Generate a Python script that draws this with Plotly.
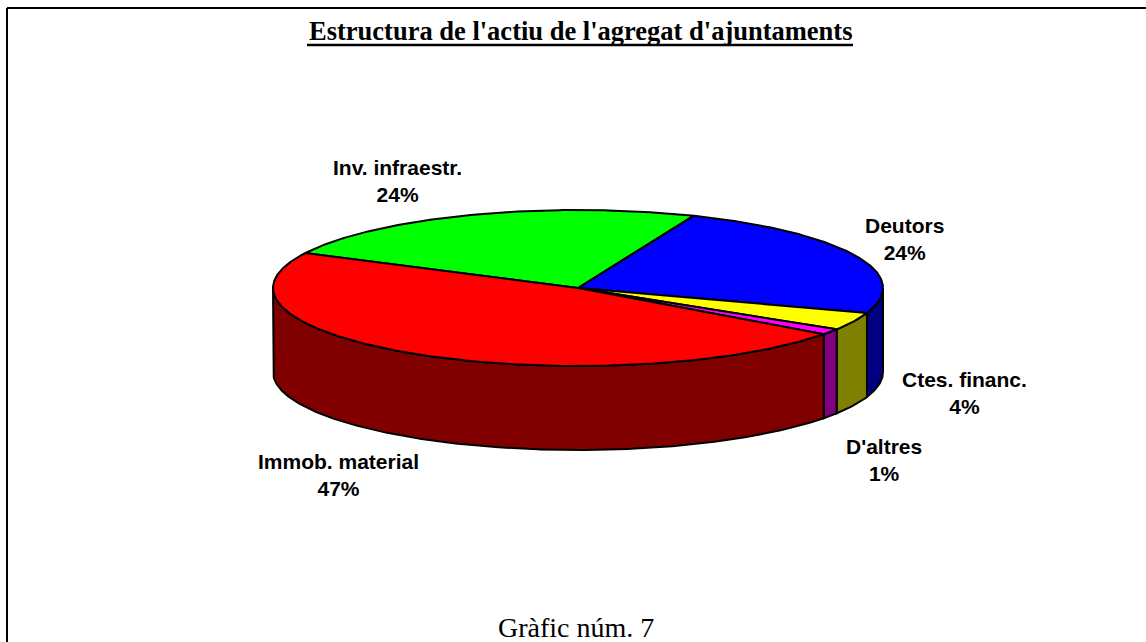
import numpy as np
import plotly.graph_objects as go

# ---- data ----
categories = ["Inv. infraestr.", "Deutors", "Ctes. financ.", "D'altres", "Immob. material"]
values = [23.8, 24.0, 3.7, 1.2, 47.3]
top_colors = ["#00FF00", "#0000FF", "#FFFF00", "#FF00FF", "#FF0000"]
side_colors = ["#008000", "#000080", "#808000", "#800080", "#800000"]
title_text = "Estructura de l'actiu de l'agregat d'ajuntaments"
footer_text = "Gràfic núm. 7"

# ---- layout / geometry (pixel space) ----
W, H = 1146, 642
CX, CY = 578, 288
RX, RY = 305, 78
DEPTH = 84
START_DEG = 153.4  # first slice starts here and runs clockwise

label_pos = [(397, 181), (904, 239), (964, 393), (884, 460), (338, 475)]

total = float(sum(values))
fracs = [v / total for v in values]

def ell(a_deg, dy=0.0):
    a = np.radians(a_deg)
    return CX + RX * np.cos(a), CY - RY * np.sin(a) + dy

fig = go.Figure()

# slice angle intervals (clockwise: a_start > a_end)
intervals = []
a = START_DEG
for f in fracs:
    a_end = a - f * 360.0
    intervals.append((a, a_end))
    a = a_end

# side faces: visible portion is front half, angles in [-180, 0] (mod 360)
for (a0, a1), sc in zip(intervals, side_colors):
    for shift in (0.0, -360.0, 360.0):
        hi = min(a0 + shift, 0.0)
        lo = max(a1 + shift, -180.0)
        if hi - lo > 1e-6:
            ts = np.linspace(hi, lo, max(int((hi - lo) * 2), 4))
            xt, yt = ell(ts)
            xb, yb = ell(ts[::-1], DEPTH)
            xs = np.concatenate([xt, xb, xt[:1]])
            ys = np.concatenate([yt, yb, yt[:1]])
            fig.add_trace(go.Scatter(x=xs, y=ys, mode="lines", fill="toself",
                                     fillcolor=sc, line=dict(color="black", width=2),
                                     hoverinfo="skip", showlegend=False))

# top faces
for (a0, a1), tc in zip(intervals, top_colors):
    ts = np.linspace(a0, a1, max(int((a0 - a1) * 2), 4))
    xa, ya = ell(ts)
    xs = np.concatenate([[CX], xa, [CX]])
    ys = np.concatenate([[CY], ya, [CY]])
    fig.add_trace(go.Scatter(x=xs, y=ys, mode="lines", fill="toself",
                             fillcolor=tc, line=dict(color="black", width=2),
                             hoverinfo="skip", showlegend=False))

# labels
for cat, f, (lx, ly) in zip(categories, fracs, label_pos):
    fig.add_annotation(x=lx, y=ly, xref="x", yref="y", showarrow=False,
                       text=f"<b>{cat}<br>{round(f * 100):.0f}%</b>",
                       font=dict(family="Liberation Sans, Arial", size=21, color="black"),
                       align="center", xanchor="center", yanchor="middle")

# title + underline
fig.add_annotation(x=580, y=31, xref="x", yref="y", showarrow=False,
                   text=f"<b>{title_text}</b>",
                   font=dict(family="Liberation Serif, Times New Roman", size=26.5, color="black"),
                   xanchor="center", yanchor="middle")
fig.add_shape(type="line", x0=307, x1=853, y0=45, y1=45, xref="x", yref="y",
              line=dict(color="black", width=2.5))

# footer
fig.add_annotation(x=576, y=627, xref="x", yref="y", showarrow=False,
                   text=footer_text,
                   font=dict(family="Liberation Serif, Times New Roman", size=28, color="black"),
                   xanchor="center", yanchor="middle")

# frame (top and left edges visible)
fig.add_shape(type="line", x0=7, x1=W + 5, y0=8, y1=8, xref="x", yref="y",
              line=dict(color="black", width=2))
fig.add_shape(type="line", x0=7, x1=7, y0=8, y1=H + 5, xref="x", yref="y",
              line=dict(color="black", width=2))

fig.update_layout(
    width=W, height=H, margin=dict(l=0, r=0, t=0, b=0),
    paper_bgcolor="white", plot_bgcolor="white",
    xaxis=dict(range=[0, W], visible=False, fixedrange=True),
    yaxis=dict(range=[H, 0], visible=False, fixedrange=True),
    showlegend=False,
)

fig.write_html("out.html", config={"displayModeBar": False},
               post_script="document.body.style.margin='0';document.body.style.overflow='hidden';")
